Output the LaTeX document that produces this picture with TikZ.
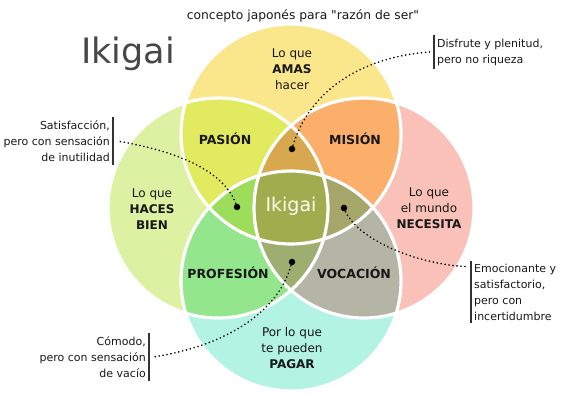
\documentclass[tikz,border=0pt]{standalone}
\usepackage{fontspec}
\setmainfont{DejaVu Sans}[Ligatures=TeXOff]

\definecolor{txt}{HTML}{181818}
\definecolor{amasc}{HTML}{FAE78C}
\definecolor{hacesc}{HTML}{DCF1A2}
\definecolor{necesitac}{HTML}{F9C1B7}
\definecolor{pagarc}{HTML}{B2F3E4}
\definecolor{pasionc}{HTML}{E2EB5F}
\definecolor{misionc}{HTML}{FBAF6B}
\definecolor{profesionc}{HTML}{93E68C}
\definecolor{vocacionc}{HTML}{B5B5A6}
\definecolor{triA}{HTML}{D8A84E}
\definecolor{triH}{HTML}{9CDD5B}
\definecolor{triN}{HTML}{A6A66A}
\definecolor{triP}{HTML}{9DAE70}
\definecolor{centroc}{HTML}{A1AC4F}

\tikzset{
  lbl/.style={align=center, font=\fontsize{12}{16}\selectfont, text=txt},
  zona/.style={font=\fontsize{12.5}{14}\selectfont\bfseries, text=txt},
  nota/.style={font=\fontsize{11}{16}\selectfont, inner sep=3pt, text=txt},
  punto/.style={circle, fill=black, inner sep=0pt, minimum size=6.5pt},
  enlace/.style={line width=1.8pt, dash pattern=on 0pt off 4pt, line cap=round},
  barra/.style={line width=1.3pt, draw=gray!40!black}
}

\begin{document}
\begin{tikzpicture}[x=1pt, y=-1pt]
\useasboundingbox (0,0) rectangle (565,403);
\def\rr{110pt}
\coordinate (cA) at (291,134); % amas
\coordinate (cH) at (218,208); % haces bien
\coordinate (cN) at (364,208); % necesita
\coordinate (cP) at (291,281); % pagar

% circulos
\foreach \c/\col in {cA/amasc, cH/hacesc, cN/necesitac, cP/pagarc}
  \fill[\col] (\c) circle[radius=\rr];
% dos a dos
\foreach \a/\b/\col in {cA/cH/pasionc, cA/cN/misionc, cH/cP/profesionc, cN/cP/vocacionc} {
  \begin{scope}
    \clip (\a) circle[radius=\rr];
    \fill[\col] (\b) circle[radius=\rr];
  \end{scope}
}
% tres a tres
\foreach \a/\b/\c/\col in {cH/cN/cA/triA, cA/cP/cH/triH, cA/cP/cN/triN, cH/cN/cP/triP} {
  \begin{scope}
    \clip (\a) circle[radius=\rr];
    \clip (\b) circle[radius=\rr];
    \fill[\col] (\c) circle[radius=\rr];
  \end{scope}
}
\begin{scope}
  \clip (cA) circle[radius=\rr];
  \clip (cH) circle[radius=\rr];
  \clip (cN) circle[radius=\rr];
  \fill[centroc] (cP) circle[radius=\rr];
\end{scope}
\foreach \c in {cA, cH, cN, cP}
  \draw[white, line width=3.2pt] (\c) circle[radius=\rr];

% textos
\node[font=\fontsize{12.3}{14}\selectfont, text=txt] (titulo) at (303,16) {concepto japonés para "razón de ser"};
\node[font=\fontsize{35}{40}\selectfont, text=black!72, anchor=base] (marca) at (128,64) {Ikigai};

\node[lbl] (amas) at (292,69) {Lo que\\\textbf{AMAS}\\hacer};
\node[zona] (pasion) at (225,139) {PASIÓN};
\node[zona] (mision) at (355,139) {MISIÓN};
\node[lbl] (haces) at (152,209) {Lo que\\\textbf{HACES}\\\textbf{BIEN}};
\node[font=\fontsize{19}{20}\selectfont, text=white!94!yellow] (ikigai) at (291,206) {Ikigai};
\node[lbl] (necesita) at (429,208) {Lo que\\el mundo\\\textbf{NECESITA}};
\node[zona] (profesion) at (228,273) {PROFESIÓN};
\node[zona] (vocacion) at (354,273) {VOCACIÓN};
\node[lbl] (pagar) at (292,348) {Por lo que\\te pueden\\\textbf{PAGAR}};

% notas
\node[nota, anchor=west, align=left] (disfrute) at (434,52) {Disfrute y plenitud,\\pero no riqueza};
\node[nota, anchor=east, align=right] (satisf) at (113,141) {Satisfacción,\\pero con sensación\\de inutilidad};
\node[nota, anchor=west, align=left] (emocion) at (471,292) {Emocionante y\\satisfactorio,\\pero con\\incertidumbre};
\node[nota, anchor=east, align=right] (comodo) at (149,357) {Cómodo,\\pero con sensación\\de vacío};
\draw[barra] (disfrute.north west) -- (disfrute.south west);
\draw[barra] (satisf.north east) -- (satisf.south east);
\draw[barra] (emocion.north west) -- (emocion.south west);
\draw[barra] (comodo.north east) -- (comodo.south east);

% puntos y enlaces
\node[punto] (p1) at (292,149) {};
\node[punto] (p2) at (237,207) {};
\node[punto] (p3) at (344,208) {};
\node[punto] (p4) at (292,262) {};
\draw[enlace] (p1.center) .. controls (305,100) and (350,58) .. ([xshift=-4pt]disfrute.west);
\draw[enlace] (p2.center) .. controls (225,168) and (170,150) .. ([xshift=4pt]satisf.east);
\draw[enlace] (p3.center) .. controls (355,240) and (420,265) .. ([xshift=-4pt,yshift=-6pt]emocion.north west);
\draw[enlace] (p4.center) .. controls (280,310) and (230,345) .. ([xshift=4pt]comodo.east);
\end{tikzpicture}
\end{document}
